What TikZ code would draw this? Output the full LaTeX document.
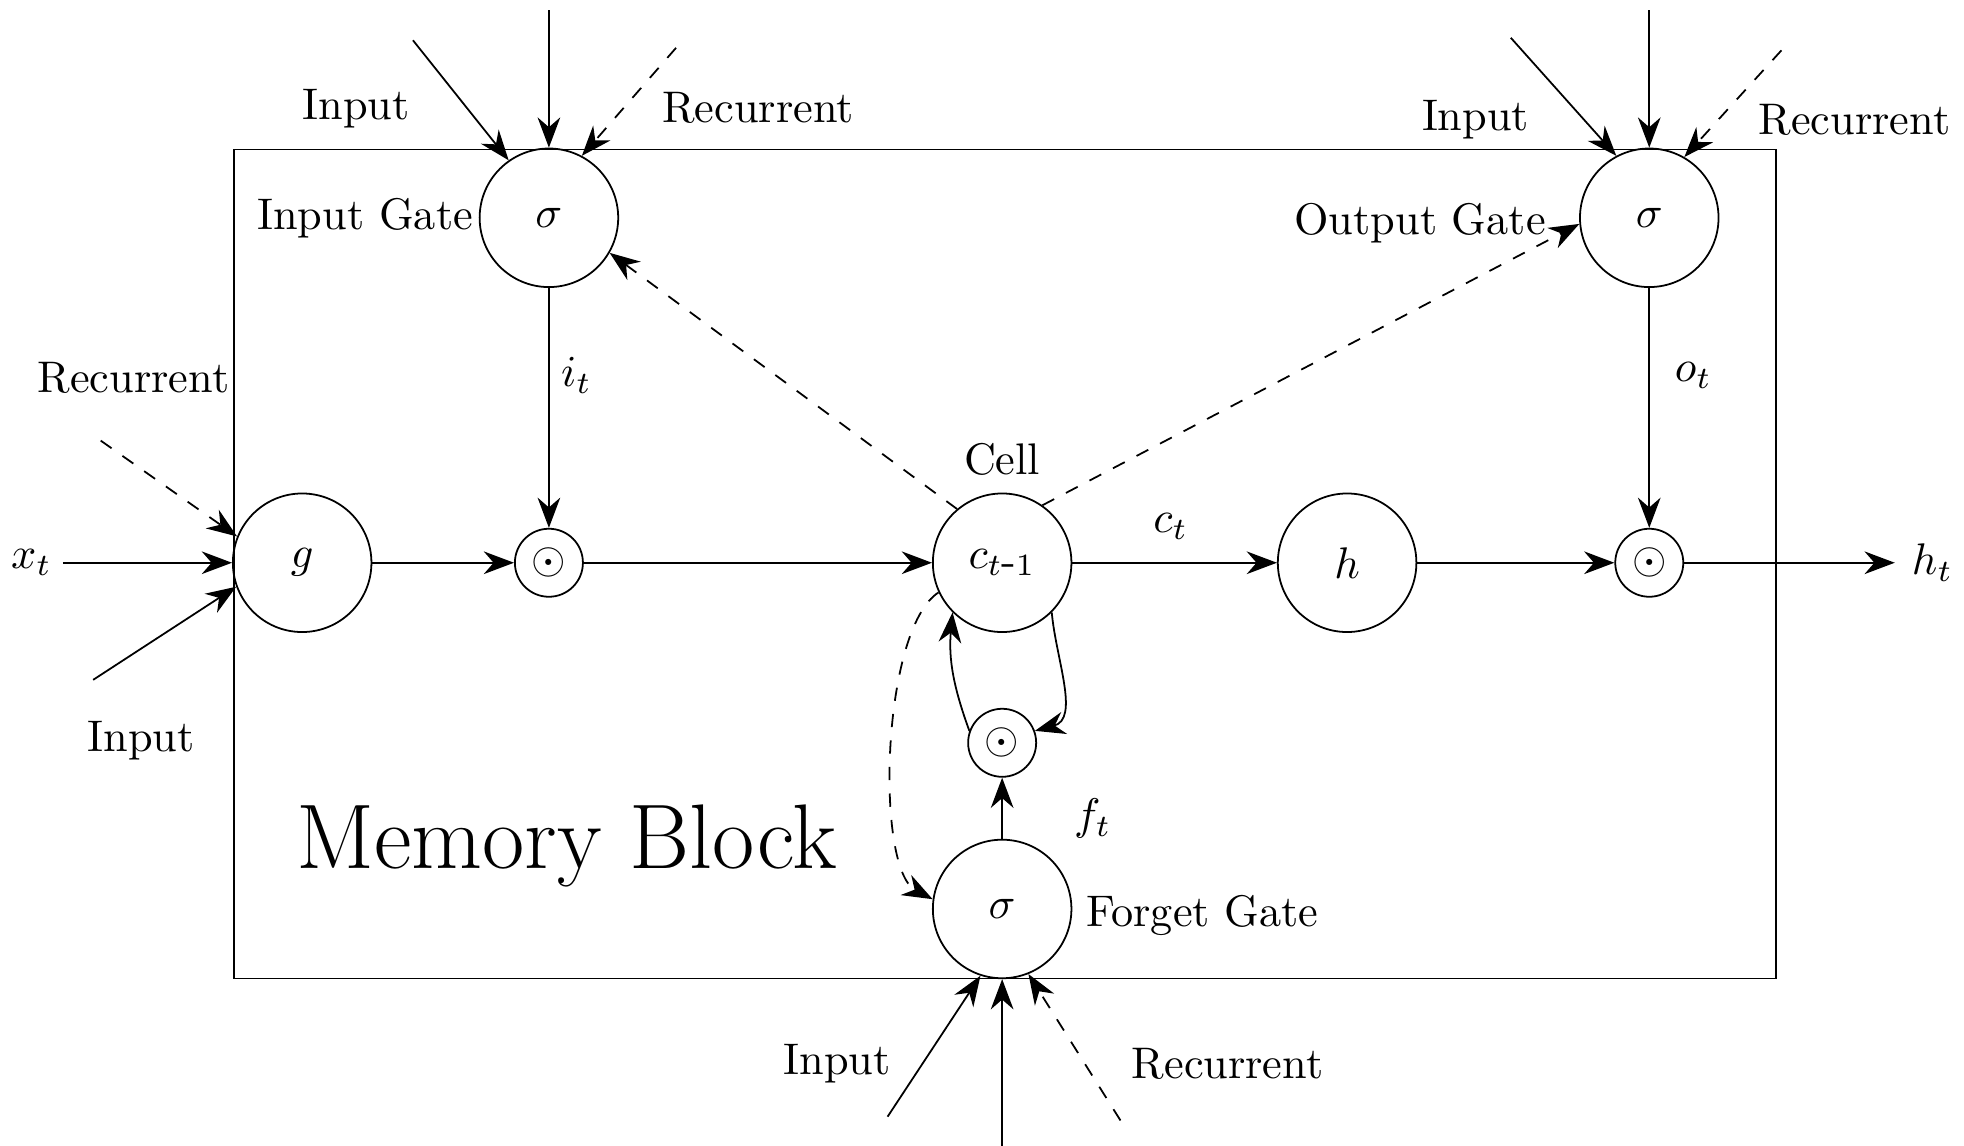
\documentclass[tikz,border=0pt]{standalone}
\usepackage{tikz}
\usetikzlibrary{arrows.meta,positioning,calc}
\tikzset{
  unit/.style={circle,draw,minimum size=1.1cm,inner sep=0pt},
  prod/.style={circle,draw,minimum size=0.54cm,inner sep=0pt},
  flow/.style={-{Stealth[length=2.4mm,width=1.8mm]},thin},
  rec/.style={flow,dashed},
  lbl/.style={font=\normalsize}
}
\begin{document}
\begin{tikzpicture}[x=0.01cm,y=-0.01cm]
  \useasboundingbox (0,0) rectangle (1560,910);
  % block
  \node[draw,minimum width=12.24cm,minimum height=6.58cm,inner sep=0pt] (block) at (798,448) {};
  \node[font=\huge] (title) at (450,672) {Memory Block};
  % units
  \node[unit] (ig) at (436,173) {$\sigma$};
  \node[unit] (og) at (1310,173) {$\sigma$};
  \node[unit] (g) at (240,447) {$g$};
  \node[prod] (pi) at (436,447) {$\odot$};
  \node[unit] (cell) at (796,447) {$c_{t\mbox{-}1}$};
  \node[unit] (h) at (1070,447) {$h$};
  \node[prod] (po) at (1310,447) {$\odot$};
  \node[prod] (pf) at (796,590) {$\odot$};
  \node[unit] (fg) at (796,722) {$\sigma$};
  % free ends
  \coordinate (xin) at (50,447);
  \coordinate (hout) at (1505,447);
  \coordinate (igA) at (328,32);
  \coordinate (igB) at (436,8);
  \coordinate (igC) at (537,38);
  \coordinate (ogA) at (1200,30);
  \coordinate (ogB) at (1310,8);
  \coordinate (ogC) at (1415,40);
  \coordinate (gR) at (80,350);
  \coordinate (gI) at (74,540);
  \coordinate (fgA) at (705,887);
  \coordinate (fgB) at (796,910);
  \coordinate (fgC) at (890,890);
  % labels
  \node[lbl] (xt) at (25,447) {$x_t$};
  \node[lbl] (ht) at (1535,447) {$h_t$};
  \node[lbl] (igl) at (290,173) {Input Gate};
  \node[lbl] (ogl) at (1128,177) {Output Gate};
  \node[lbl] (fgl) at (955,727) {Forget Gate};
  \node[lbl] (celll) at (796,365) {Cell};
  \node[lbl] (itl) at (458,298) {$i_t$};
  \node[lbl] (otl) at (1345,298) {$o_t$};
  \node[lbl] (ctl) at (930,418) {$c_t$};
  \node[lbl] (ftl) at (868,650) {$f_t$};
  \node[lbl] (igIn) at (283,86) {Input};
  \node[lbl] (igRec) at (602,86) {Recurrent};
  \node[lbl] (ogIn) at (1172,95) {Input};
  \node[lbl] (ogRec) at (1473,95) {Recurrent};
  \node[lbl] (gRec) at (106,300) {Recurrent};
  \node[lbl] (gIn) at (112,588) {Input};
  \node[lbl] (fgIn) at (665,845) {Input};
  \node[lbl] (fgRec) at (975,845) {Recurrent};
  % main path
  \draw[flow] (xin) -- (g);
  \draw[flow] (g) -- (pi);
  \draw[flow] (pi) -- (cell);
  \draw[flow] (cell) -- (h);
  \draw[flow] (h) -- (po);
  \draw[flow] (po) -- (hout);
  \draw[flow] (ig) -- (pi);
  \draw[flow] (og) -- (po);
  \draw[flow] (fg) -- (pf);
  % cell loop
  \draw[flow] (pf.160) to[out=110,in=-95] (cell.-135);
  \draw[flow] (cell.-45) to[out=-85,in=15] (pf.20);
  % peepholes
  \draw[rec] (cell.130) -- (ig.-30);
  \draw[rec] (cell.55) -- (og.185);
  \draw[rec] (cell.205) .. controls (700,500) and (695,690) .. (fg.172);
  % gate inputs
  \draw[flow] (igA) -- (ig.125);
  \draw[flow] (igB) -- (ig);
  \draw[rec] (igC) -- (ig.62);
  \draw[flow] (ogA) -- (og.118);
  \draw[flow] (ogB) -- (og);
  \draw[rec] (ogC) -- (og.60);
  \draw[rec] (gR) -- (g.158);
  \draw[flow] (gI) -- (g.-160);
  \draw[flow] (fgA) -- (fg.-108);
  \draw[flow] (fgB) -- (fg);
  \draw[rec] (fgC) -- (fg.-68);
\end{tikzpicture}
\end{document}
